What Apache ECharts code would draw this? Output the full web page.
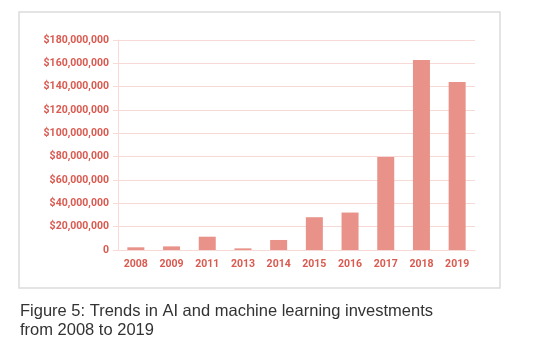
<!DOCTYPE html>
<html lang="en">
  <head>
    <meta charset="UTF-8" />
    <title>AI investments</title>
    <script src="https://cdn.jsdelivr.net/npm/echarts@6/dist/echarts.min.js"></script>
    <style>
      body { margin: 0; background: #fff; }
    </style>
  </head>
  <body>
    <div id="main" style="width: 554px; height: 354px"></div>
    <script type="text/javascript">
      const years = ["2008", "2009", "2011", "2013", "2014", "2015", "2016", "2017", "2018", "2019"];
      const investments = [2300000, 3100000, 11400000, 1400000, 8600000, 28100000, 32100000, 79700000, 162800000, 144100000];
      const caption = "Figure 5: Trends in AI and machine learning investments\nfrom 2008 to 2019";

      const red = "#d95a50";
      const pink = "#f7d9d5";

      let myChart = echarts.init(document.getElementById("main"));
      myChart.setOption({
        animation: false,
        title: {
          text: caption,
          left: 15,
          top: 297,
          textStyle: {
            fontFamily: "Liberation Sans",
            fontWeight: "normal",
            fontSize: 16.5,
            lineHeight: 19,
            color: "#333",
          },
        },
        graphic: [
          {
            type: "rect",
            shape: { x: 19, y: 12, width: 481, height: 276 },
            style: { fill: "none", stroke: "#dcdcdc", lineWidth: 1.5 },
            silent: true,
          },
        ],
        grid: { left: 118, right: 79, top: 40, bottom: 104 },
        xAxis: {
          type: "category",
          data: years,
          axisLine: { lineStyle: { color: pink, width: 1 } },
          axisTick: { show: false },
          axisLabel: {
            color: red,
            fontFamily: "Roboto",
            fontWeight: "bold",
            fontSize: 10.5,
            margin: 9,
          },
        },
        yAxis: {
          type: "value",
          min: 0,
          max: 180000000,
          interval: 20000000,
          axisLine: { show: true, lineStyle: { color: pink, width: 1 } },
          axisTick: { show: true, length: 5, lineStyle: { color: pink } },
          splitLine: { lineStyle: { color: pink, width: 1 } },
          axisLabel: {
            color: red,
            fontFamily: "Roboto",
            fontWeight: "bold",
            fontSize: 10.5,
            margin: 9,
            formatter: (v) => (v === 0 ? "0" : "$" + v.toLocaleString("en-US")),
          },
        },
        series: [
          {
            type: "bar",
            data: investments,
            barWidth: 17,
            itemStyle: { color: "#e8928a" },
          },
        ],
      });
    </script>
  </body>
</html>
